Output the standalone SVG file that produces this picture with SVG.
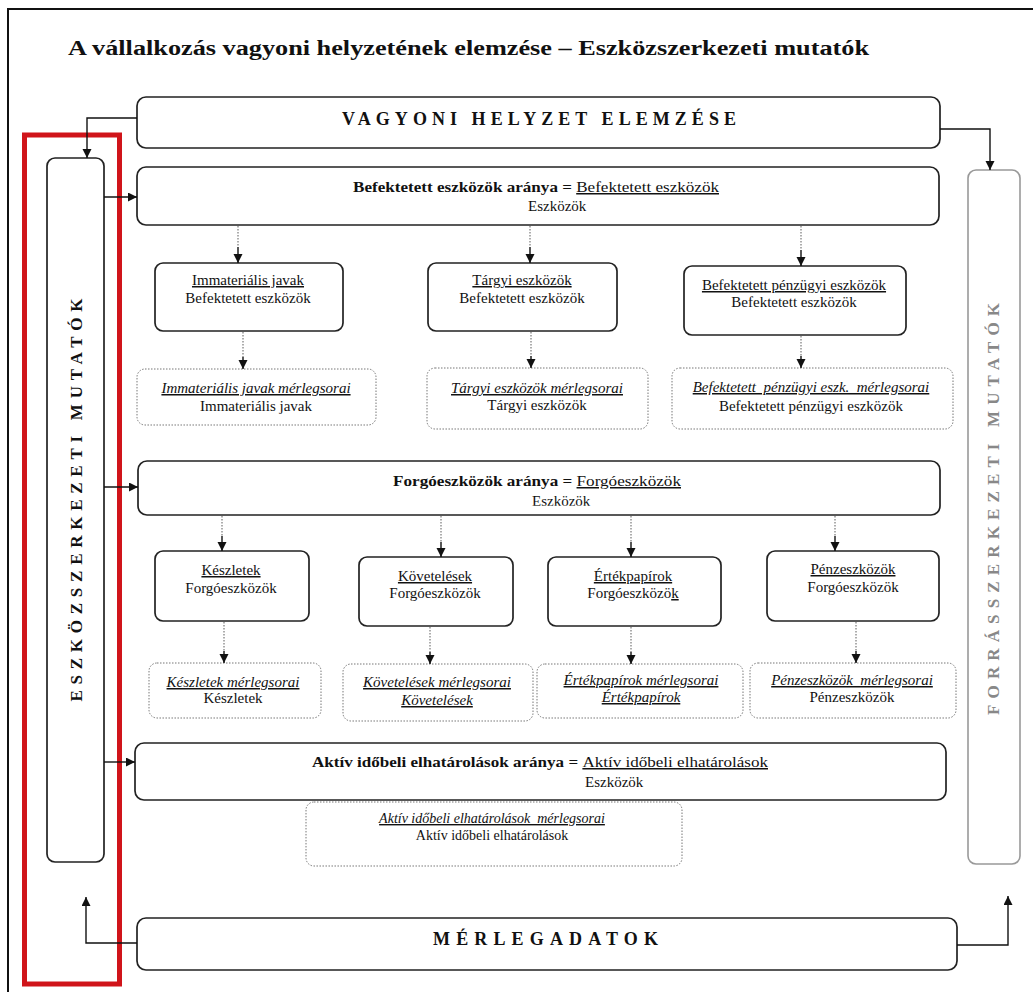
<svg xmlns="http://www.w3.org/2000/svg" width="1033" height="992" viewBox="0 0 1033 992" font-family="'Liberation Serif', 'Times New Roman', serif">
  <defs>
    <marker id="arr" markerUnits="userSpaceOnUse" markerWidth="10" markerHeight="10" refX="9" refY="4.5" orient="auto">
      <path d="M0,0 L9,4.5 L0,9 z" fill="#111"/>
    </marker>
    <clipPath id="clipForgo">
      <rect x="500" y="488" width="140" height="17.8"/>
    </clipPath>
  </defs>
  <style>
    svg text, svg tspan { font-family: "Liberation Serif", "Times New Roman", serif; }
    text { fill: #111; }
    .title { font-size: 20px; font-weight: bold; }
    .head { font-size: 18px; font-weight: bold; }
    .vert { font-size: 17px; font-weight: bold; }
    .t { font-size: 15px; }
    .ts { font-size: 14px; }
    .b { font-weight: bold; }
    .u { text-decoration: underline; }
    .i { font-style: italic; }
    .pre { white-space: pre; }
    .box { fill: #fff; stroke: #222; stroke-width: 1.7; }
    .dbox { fill: #fff; stroke: #777; stroke-width: 1; stroke-dasharray: 1.5 1.5; }
    .gbox { fill: #fff; stroke: #999; stroke-width: 1.6; }
    .link { fill: none; stroke: #111; stroke-width: 1.4; }
    .dot { fill: none; stroke: #777; stroke-width: 1.2; stroke-dasharray: 1.5 1.5; }
  </style>

  <!-- page frame -->
  <rect x="8" y="9" width="1050" height="1000" fill="#fff" stroke="#111" stroke-width="2"/>

  <text class="title" x="68" y="55" textLength="801" lengthAdjust="spacingAndGlyphs">A vállalkozás vagyoni helyzetének elemzése – Eszközszerkezeti mutatók</text>

  <!-- highlight around the asset-structure column -->
  <rect x="24.5" y="135" width="95" height="849" fill="none" stroke="#d0141a" stroke-width="5"/>

  <g id="vagyoni">
    <rect class="box" x="137" y="97" width="803" height="51" rx="9"/>
    <text class="head" x="342" y="125" textLength="394" lengthAdjust="spacing">VAGYONI HELYZET ELEMZÉSE</text>
  </g>

  <g id="eszkoz-mutatok">
    <rect class="box" x="47" y="158" width="57" height="704" rx="8"/>
    <text class="vert" transform="translate(82,500) rotate(-90)" text-anchor="middle" textLength="403" lengthAdjust="spacing">ESZKÖZSZERKEZETI MUTATÓK</text>
  </g>

  <g id="forras-mutatok">
    <rect class="gbox" x="968" y="170" width="52" height="694" rx="8"/>
    <text class="vert" style="fill:#888" transform="translate(999,509) rotate(-90)" text-anchor="middle" textLength="412" lengthAdjust="spacing">FORRÁSSZERKEZETI MUTATÓK</text>
  </g>

  <g id="befektetett-arany">
    <rect class="box" x="137" y="167" width="802" height="58" rx="9"/>
    <text class="t" x="353" y="192" textLength="366" lengthAdjust="spacingAndGlyphs"><tspan class="b">Befektetett eszközök aránya = </tspan><tspan class="u">Befektetett eszközök</tspan></text>
    <text class="t" x="528" y="211">Eszközök</text>
  </g>

  <g id="immaterialis">
    <rect class="box" x="155" y="263" width="188" height="68" rx="8"/>
    <text class="t" x="248" y="285" text-anchor="middle"><tspan class="u">Immateriális javak</tspan></text>
    <text class="t" x="248" y="303" text-anchor="middle">Befektetett eszközök</text>
  </g>
  <g id="targyi">
    <rect class="box" x="428" y="263" width="189" height="68" rx="8"/>
    <text class="t" x="522" y="285" text-anchor="middle"><tspan class="u">Tárgyi eszközök</tspan></text>
    <text class="t" x="522" y="303" text-anchor="middle">Befektetett eszközök</text>
  </g>
  <g id="penzugyi">
    <rect class="box" x="684" y="266" width="222" height="69" rx="8"/>
    <text class="t" x="794" y="290" text-anchor="middle"><tspan class="u">Befektetett pénzügyi eszközök</tspan></text>
    <text class="t" x="794" y="307" text-anchor="middle">Befektetett eszközök</text>
  </g>

  <g id="immaterialis-sorok">
    <rect class="dbox" x="137" y="369" width="239" height="56" rx="8"/>
    <text class="t" x="256" y="393" text-anchor="middle"><tspan class="i u">Immateriális javak mérlegsorai</tspan></text>
    <text class="t" x="256" y="411" text-anchor="middle">Immateriális javak</text>
  </g>
  <g id="targyi-sorok">
    <rect class="dbox" x="427" y="368" width="221" height="61" rx="8"/>
    <text class="t" x="537" y="393" text-anchor="middle"><tspan class="i u">Tárgyi eszközök mérlegsorai</tspan></text>
    <text class="t" x="537" y="410" text-anchor="middle">Tárgyi eszközök</text>
  </g>
  <g id="penzugyi-sorok">
    <rect class="dbox" x="672" y="368" width="281" height="61" rx="8"/>
    <text class="t pre" x="811" y="392" text-anchor="middle"><tspan class="i u">Befektetett  pénzügyi eszk.  mérlegsorai</tspan></text>
    <text class="t" x="811" y="411" text-anchor="middle">Befektetett pénzügyi eszközök</text>
  </g>

  <g id="forgo-arany">
    <rect class="box" x="138" y="461" width="802" height="54" rx="9"/>
    <text class="t" x="393" y="486" textLength="288" lengthAdjust="spacingAndGlyphs"><tspan class="b">Forgóeszközök aránya = </tspan><tspan class="u">Forgóeszközök</tspan></text>
    <text class="t" x="532" y="506" clip-path="url(#clipForgo)">Eszközök</text>
  </g>

  <g id="keszletek">
    <rect class="box" x="155" y="551" width="154" height="70" rx="8"/>
    <text class="t" x="231" y="575" text-anchor="middle"><tspan class="u">Készletek</tspan></text>
    <text class="t" x="231" y="593" text-anchor="middle">Forgóeszközök</text>
  </g>
  <g id="kovetelesek">
    <rect class="box" x="359" y="557" width="154" height="69" rx="8"/>
    <text class="t" x="435" y="581" text-anchor="middle"><tspan class="u">Követelések</tspan></text>
    <text class="t" x="435" y="598" text-anchor="middle">Forgóeszközök</text>
  </g>
  <g id="ertekpapirok">
    <rect class="box" x="548" y="557" width="173" height="69" rx="8"/>
    <text class="t" x="633" y="581" text-anchor="middle"><tspan class="u">Értékpapírok</tspan></text>
    <text class="t" x="633" y="598" text-anchor="middle">Forgóeszközö<tspan class="u">k</tspan></text>
  </g>
  <g id="penzeszkozok">
    <rect class="box" x="767" y="551" width="172" height="70" rx="8"/>
    <text class="t" x="853" y="574" text-anchor="middle"><tspan class="u">Pénzeszközök</tspan></text>
    <text class="t" x="853" y="592" text-anchor="middle">Forgóeszközök</text>
  </g>

  <g id="keszletek-sorok">
    <rect class="dbox" x="149" y="663" width="172" height="55" rx="8"/>
    <text class="t" x="233" y="687" text-anchor="middle"><tspan class="i u">Készletek mérlegsorai</tspan></text>
    <text class="t" x="233" y="703" text-anchor="middle">Készletek</text>
  </g>
  <g id="kovetelesek-sorok">
    <rect class="dbox" x="343" y="664" width="190" height="57" rx="8"/>
    <text class="t" x="437" y="687" text-anchor="middle"><tspan class="i u">Követelések mérlegsorai</tspan></text>
    <text class="t" x="437" y="705" text-anchor="middle"><tspan class="i u">Követelések</tspan></text>
  </g>
  <g id="ertekpapirok-sorok">
    <rect class="dbox" x="537" y="664" width="206" height="54" rx="8"/>
    <text class="t" x="641" y="685" text-anchor="middle"><tspan class="i u">Értékpapírok mérlegsorai</tspan></text>
    <text class="t" x="641" y="702" text-anchor="middle"><tspan class="i u">Értékpapírok</tspan></text>
  </g>
  <g id="penzeszkozok-sorok">
    <rect class="dbox" x="750" y="663" width="206" height="55" rx="8"/>
    <text class="t pre" x="852" y="685" text-anchor="middle"><tspan class="i u">Pénzeszközök  mérlegsorai</tspan></text>
    <text class="t" x="852" y="702" text-anchor="middle">Pénzeszközök</text>
  </g>

  <g id="aktiv-arany">
    <rect class="box" x="135" y="743" width="811" height="57" rx="9"/>
    <text class="t" x="312" y="767" textLength="456" lengthAdjust="spacingAndGlyphs"><tspan class="b">Aktív időbeli elhatárolások aránya = </tspan><tspan class="u">Aktív időbeli elhatárolások</tspan></text>
    <text class="t" x="585" y="787">Eszközök</text>
  </g>
  <g id="aktiv-sorok">
    <rect class="dbox" x="306" y="802" width="376" height="64" rx="8"/>
    <text class="ts pre" x="492" y="823" text-anchor="middle"><tspan class="i u">Aktív időbeli elhatárolások  mérlegsorai</tspan></text>
    <text class="ts" x="492" y="840" text-anchor="middle">Aktív időbeli elhatárolások</text>
  </g>

  <g id="merlegadatok">
    <rect class="box" x="137" y="918" width="820" height="52" rx="9"/>
    <text class="head" x="433" y="945" textLength="225" lengthAdjust="spacing">MÉRLEGADATOK</text>
  </g>

  <g id="connectors">
    <path class="link" d="M137,118 H87 V158" marker-end="url(#arr)"/>
    <path class="link" d="M940,129 H990 V170" marker-end="url(#arr)"/>
    <path class="link" d="M104,197 H137" marker-end="url(#arr)"/>
    <path class="link" d="M104,487 H138" marker-end="url(#arr)"/>
    <path class="link" d="M104,762 H135" marker-end="url(#arr)"/>
    <path class="link" d="M137,943 H86 V897" marker-end="url(#arr)"/>
    <path class="link" d="M957,945 H1008 V896" marker-end="url(#arr)"/>

    <!-- dotted feeders: ratio boxes to component boxes -->
    <path class="dot" d="M238,226 V247"/><path class="link" d="M238,247 V263" marker-end="url(#arr)"/>
    <path class="dot" d="M530,226 V247"/><path class="link" d="M530,247 V263" marker-end="url(#arr)"/>
    <path class="dot" d="M801,226 V250"/><path class="link" d="M801,250 V266" marker-end="url(#arr)"/>

    <path class="dot" d="M243,332 V357"/><path class="link" d="M243,357 V369" marker-end="url(#arr)"/>
    <path class="dot" d="M531,332 V356"/><path class="link" d="M531,356 V368" marker-end="url(#arr)"/>
    <path class="dot" d="M801,336 V356"/><path class="link" d="M801,356 V368" marker-end="url(#arr)"/>

    <path class="dot" d="M222,516 V536"/><path class="link" d="M222,536 V551" marker-end="url(#arr)"/>
    <path class="dot" d="M441,516 V542"/><path class="link" d="M441,542 V557" marker-end="url(#arr)"/>
    <path class="dot" d="M631,516 V542"/><path class="link" d="M631,542 V557" marker-end="url(#arr)"/>
    <path class="dot" d="M835,516 V536"/><path class="link" d="M835,536 V551" marker-end="url(#arr)"/>

    <path class="dot" d="M224,622 V651"/><path class="link" d="M224,651 V663" marker-end="url(#arr)"/>
    <path class="dot" d="M430,627 V652"/><path class="link" d="M430,652 V664" marker-end="url(#arr)"/>
    <path class="dot" d="M631,627 V652"/><path class="link" d="M631,652 V664" marker-end="url(#arr)"/>
    <path class="dot" d="M856,622 V651"/><path class="link" d="M856,651 V663" marker-end="url(#arr)"/>
  </g>
</svg>
